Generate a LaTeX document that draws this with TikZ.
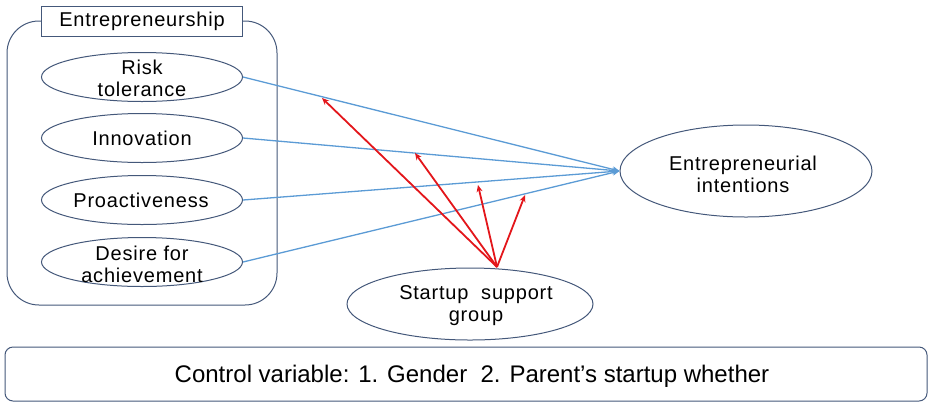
\documentclass[tikz,border=0pt]{standalone}
\usepackage{fontspec}
\setmainfont{Liberation Sans}[LetterSpace=4]
\newfontfamily\ctrlfont{Liberation Sans}
\usetikzlibrary{shapes.geometric,arrows.meta}
\definecolor{outl}{HTML}{44587A}
\definecolor{blueln}{HTML}{5B9BD5}
\definecolor{redln}{HTML}{E3161B}
\begin{document}
\begin{tikzpicture}[x=1pt,y=-1pt,
  ell/.style={draw=outl, line width=1pt, ellipse, inner sep=0pt},
  txt/.style={align=center, font=\fontsize{20}{22}\selectfont, inner sep=0pt},
  bluearr/.style={draw=blueln, line width=1.3pt, -{Stealth[length=7pt,width=6pt]}},
  redarr/.style={draw=redln, line width=1.8pt, -{Stealth[length=7pt,width=6pt]}}]
\useasboundingbox (0,0) rectangle (933,408);
% group box
\draw[outl, line width=1pt, rounded corners=32pt] (7,21) rectangle (277,305);
\node[draw=outl, line width=1pt, fill=white, minimum width=201pt, minimum height=30pt, inner sep=0pt, font=\fontsize{20}{22}\selectfont] (title) at (142,21) {Entrepreneurship};
% ellipses
\node[ell, minimum width=201pt, minimum height=49pt] (risk) at (142,77) {};
\node[txt] at (142,78) {Risk\\tolerance};
\node[ell, minimum width=201pt, minimum height=49pt] (inno) at (142,138) {};
\node[txt] at (142,138) {Innovation};
\node[ell, minimum width=201pt, minimum height=49pt] (proa) at (142,200) {};
\node[txt] at (141,200) {Proactiveness};
\node[ell, minimum width=201pt, minimum height=49pt] (desi) at (142,262) {};
\node[txt] at (142,264) {Desire for\\achievement};
\node[ell, minimum width=252pt, minimum height=92pt] (ei) at (746,171) {};
\node[txt] at (743,174) {Entrepreneurial\\intentions};
\node[ell, minimum width=246pt, minimum height=72pt] (ssg) at (470,304) {};
\node[txt] at (476,306) {Startup\ \ support\\group};
% control box
\node[draw=outl, line width=1pt, rounded corners=8pt, minimum width=922pt, minimum height=54pt, inner sep=0pt] (ctrl) at (466,374) {};
\node[inner sep=0pt, font=\ctrlfont\fontsize{24}{26}\selectfont] at (472,376) {Control variable: 1. Gender\ \ 2. Parent’s startup whether};
% blue arrows
\draw[bluearr] (risk.east) -- (ei.west);
\draw[bluearr] (inno.east) -- (ei.west);
\draw[bluearr] (proa.east) -- (ei.west);
\draw[bluearr] (desi.east) -- (ei.west);
% red arrows
\coordinate (src) at (497,267);
\coordinate (r1) at (322,98);
\coordinate (r2) at (415,153);
\coordinate (r3) at (478,185);
\coordinate (r4) at (525,195);
\draw[redarr] (src) -- (r1);
\draw[redarr] (src) -- (r2);
\draw[redarr] (src) -- (r3);
\draw[redarr] (src) -- (r4);
\end{tikzpicture}
\end{document}
